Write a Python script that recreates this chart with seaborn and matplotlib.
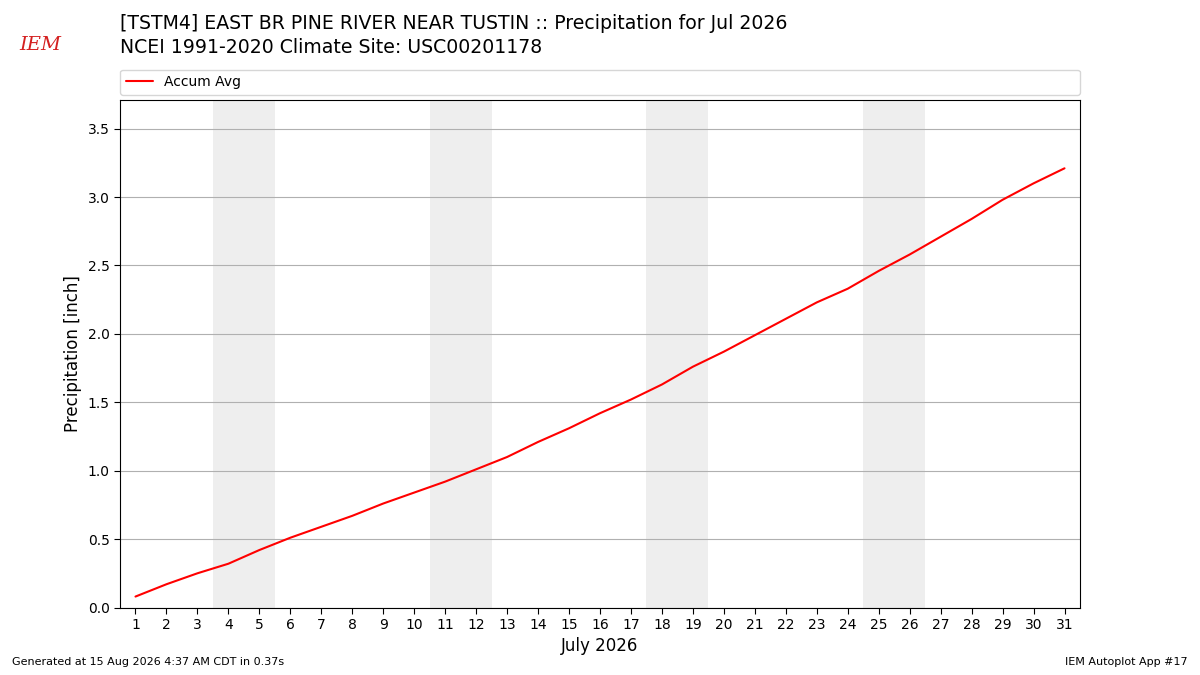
import pandas as pd
import matplotlib
matplotlib.use("Agg")
import matplotlib.pyplot as plt
import seaborn as sns

# accumulated average precipitation, July (NCEI 1991-2020)
days = list(range(1, 32))
accum_avg = [0.08, 0.17, 0.25, 0.32, 0.42, 0.51, 0.59, 0.67, 0.76, 0.84,
             0.92, 1.01, 1.10, 1.21, 1.31, 1.42, 1.52, 1.63, 1.76, 1.87,
             1.99, 2.11, 2.23, 2.33, 2.46, 2.58, 2.71, 2.84, 2.98, 3.10,
             3.21]
weekend_starts = [4, 11, 18, 25]

df = pd.DataFrame({"day": days, "precip": accum_avg})

sns.set_style("white")
plt.rcParams["font.family"] = ["DejaVu Sans"]
plt.rcParams["text.color"] = "black"
plt.rcParams["axes.labelcolor"] = "black"
plt.rcParams["xtick.color"] = "black"
plt.rcParams["ytick.color"] = "black"

fig = plt.figure(figsize=(12, 6.75), dpi=100)
ax = fig.add_axes([0.1, 0.1, 0.8, 0.752])

for d in weekend_starts:
    ax.axvspan(d - 0.5, d + 1.5, color="#eeeeee", zorder=0, lw=0)

sns.lineplot(data=df, x="day", y="precip", color="red", lw=1.5,
             label="Accum Avg", ax=ax, zorder=3)

ax.set_xlim(0.5, 31.5)
ax.set_ylim(0, 3.71)
ax.set_xticks(days)
ax.set_yticks([0, 0.5, 1.0, 1.5, 2.0, 2.5, 3.0, 3.5])
ax.yaxis.grid(True, color="#b0b0b0", lw=0.8)
ax.set_axisbelow(True)
ax.tick_params(axis="both", labelsize=10, length=4, direction="out",
               bottom=True, left=True)
for s in ax.spines.values():
    s.set_color("black")
    s.set_linewidth(0.8)
ax.set_xlabel("July 2026", fontsize=12)
ax.set_ylabel("Precipitation [inch]", fontsize=12)

ax.legend(loc="lower left", bbox_to_anchor=(0.0, 1.01, 1.0, 0.05),
          mode="expand", ncol=1, fontsize=10, frameon=True,
          borderaxespad=0.0)

fig.text(0.1, 0.965, "[TSTM4] EAST BR PINE RIVER NEAR TUSTIN :: Precipitation for Jul 2026",
         fontsize=13.6, va="center")
fig.text(0.1, 0.930, "NCEI 1991-2020 Climate Site: USC00201178",
         fontsize=13.6, va="center")

# logo stand-in
fig.text(0.016, 0.933, "IEM", fontsize=14, color="#d42020", style="italic",
         family="DejaVu Serif", va="center")

fig.text(0.01, 0.015, "Generated at 15 Aug 2026 4:37 AM CDT in 0.37s", fontsize=8)
fig.text(0.99, 0.015, "IEM Autoplot App #17", fontsize=8, ha="right")

fig.savefig("out.png", dpi=100)
